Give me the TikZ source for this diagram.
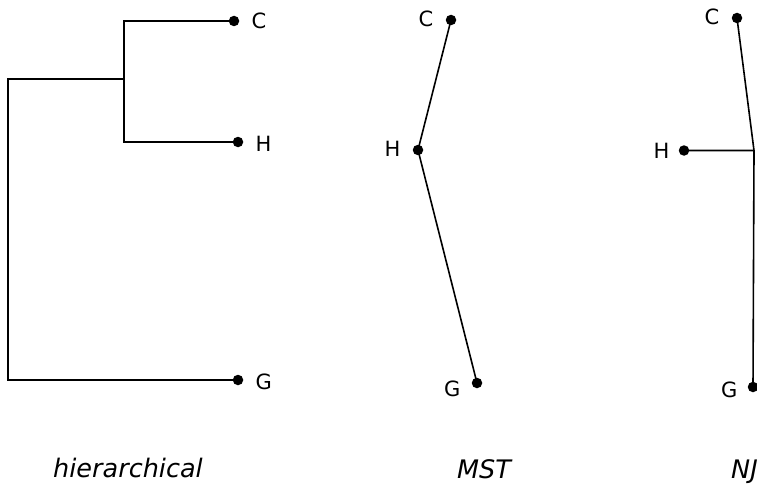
\documentclass[tikz,border=0pt]{standalone}
\usepackage{fontspec}
\setmainfont{DejaVu Sans}
\usetikzlibrary{positioning}
\usetikzlibrary{calc}

\begin{document}
\begin{tikzpicture}[x=1pt, y=-1pt,
    leaf/.style={circle, fill=black, inner sep=0pt, minimum size=10.5pt},
    leaflabel/.style={font=\fontsize{21}{24}\selectfont, inner sep=0pt},
    title/.style={font=\fontsize{25.5}{30}\selectfont\itshape, inner sep=0pt, anchor=base},
    edge/.style={line width=1.6pt}]
        \clip (0,0) rectangle (757,487);
        \useasboundingbox (0,0) rectangle (757,487);
        % hierarchical
        \node[leaf] (hc) at (234,21) {};
        \node[leaf] (hh) at (238,142) {};
        \node[leaf] (hg) at (238,380) {};
        \node[leaflabel, right=12pt of hc] {C};
        \node[leaflabel, right=12pt of hh, yshift=-2pt] {H};
        \node[leaflabel, right=12pt of hg, yshift=-2pt] {G};
        \coordinate (hj) at (124,79);
        \draw[edge] (hc) -| (hj) |- (hh);
        \draw[edge] (hj) -- (8,79) |- (hg);
        \node[title] at (128,477) {hierarchical};
        % MST
        \node[leaf] (mc) at (451,20) {};
        \node[leaf] (mh) at (418,150) {};
        \node[leaf] (mg) at (477,383) {};
        \node[leaflabel, left=12pt of mc, yshift=1pt] {C};
        \node[leaflabel, left=12pt of mh, yshift=1.5pt] {H};
        \node[leaflabel, left=11pt of mg, yshift=-5.5pt] {G};
        \draw[edge] (mc.center) -- (mh.center) -- (mg.center);
        \node[title] at (484,478) {MST};
        % NJ
        \node[leaf] (nc) at (737,18) {};
        \node[leaf] (nh) at (684,150.5) {};
        \node[leaf] (ng) at (753,387) {};
        \node[leaflabel, left=12pt of nc, yshift=1.5pt] {C};
        \node[leaflabel, left=9pt of nh] {H};
        \node[leaflabel, left=10pt of ng, yshift=-3pt] {G};
        \coordinate (nj) at (754,150.5);
        \draw[edge] (nc.center) -- (nj) -- (nh.center);
        \draw[edge] (nj) -- (ng.center);
        \node[title, anchor=base west] at (731,478) {NJ};
\end{tikzpicture}
\end{document}
